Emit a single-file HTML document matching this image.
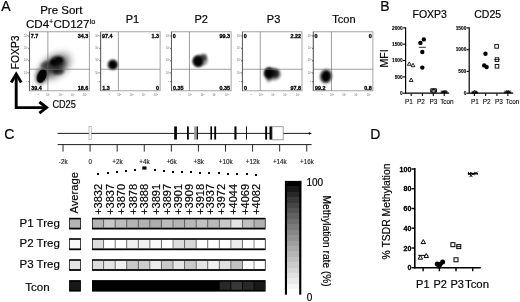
<!DOCTYPE html>
<html lang="en"><head><meta charset="utf-8"><title>Figure</title>
<style>html,body{margin:0;padding:0;background:#fff;}body{width:520px;height:302px;overflow:hidden;}svg{display:block;font-family:'Liberation Sans', Arial, Helvetica, sans-serif;}</style>
</head><body>
<svg width="520" height="302" viewBox="0 0 520 302">
<defs>
<filter id="b05" x="-50%" y="-50%" width="200%" height="200%"><feGaussianBlur stdDeviation="0.7"/></filter>
<filter id="b09" x="-50%" y="-50%" width="200%" height="200%"><feGaussianBlur stdDeviation="0.95"/></filter>
<filter id="b1" x="-50%" y="-50%" width="200%" height="200%"><feGaussianBlur stdDeviation="1.1"/></filter>
<filter id="b2" x="-50%" y="-50%" width="200%" height="200%"><feGaussianBlur stdDeviation="2.2"/></filter>
<filter id="b3" x="-50%" y="-50%" width="200%" height="200%"><feGaussianBlur stdDeviation="3.5"/></filter>
<filter id="t" x="-5%" y="-5%" width="110%" height="110%"><feGaussianBlur stdDeviation="0.35"/></filter>
<linearGradient id="cb" x1="0" y1="0" x2="0" y2="1">
<stop offset="0.0000" stop-color="#000000"/><stop offset="0.0476" stop-color="#000000"/>
<stop offset="0.0476" stop-color="#171717"/><stop offset="0.0952" stop-color="#171717"/>
<stop offset="0.0952" stop-color="#282828"/><stop offset="0.1429" stop-color="#282828"/>
<stop offset="0.1429" stop-color="#383838"/><stop offset="0.1905" stop-color="#383838"/>
<stop offset="0.1905" stop-color="#464646"/><stop offset="0.2381" stop-color="#464646"/>
<stop offset="0.2381" stop-color="#545454"/><stop offset="0.2857" stop-color="#545454"/>
<stop offset="0.2857" stop-color="#616161"/><stop offset="0.3333" stop-color="#616161"/>
<stop offset="0.3333" stop-color="#6e6e6e"/><stop offset="0.3810" stop-color="#6e6e6e"/>
<stop offset="0.3810" stop-color="#7b7b7b"/><stop offset="0.4286" stop-color="#7b7b7b"/>
<stop offset="0.4286" stop-color="#878787"/><stop offset="0.4762" stop-color="#878787"/>
<stop offset="0.4762" stop-color="#929292"/><stop offset="0.5238" stop-color="#929292"/>
<stop offset="0.5238" stop-color="#9e9e9e"/><stop offset="0.5714" stop-color="#9e9e9e"/>
<stop offset="0.5714" stop-color="#a9a9a9"/><stop offset="0.6190" stop-color="#a9a9a9"/>
<stop offset="0.6190" stop-color="#b5b5b5"/><stop offset="0.6667" stop-color="#b5b5b5"/>
<stop offset="0.6667" stop-color="#c0c0c0"/><stop offset="0.7143" stop-color="#c0c0c0"/>
<stop offset="0.7143" stop-color="#cbcbcb"/><stop offset="0.7619" stop-color="#cbcbcb"/>
<stop offset="0.7619" stop-color="#d5d5d5"/><stop offset="0.8095" stop-color="#d5d5d5"/>
<stop offset="0.8095" stop-color="#e0e0e0"/><stop offset="0.8571" stop-color="#e0e0e0"/>
<stop offset="0.8571" stop-color="#eaeaea"/><stop offset="0.9048" stop-color="#eaeaea"/>
<stop offset="0.9048" stop-color="#f5f5f5"/><stop offset="0.9524" stop-color="#f5f5f5"/>
<stop offset="0.9524" stop-color="#ffffff"/><stop offset="1.0000" stop-color="#ffffff"/>
</linearGradient>
</defs>
<rect width="520" height="302" fill="#fff"/>
<text x="1.20" y="11.10" font-size="14.00" text-anchor="start" font-weight="normal" fill="#000" stroke="#000" stroke-width="0.18" >A</text>
<text x="380.20" y="11.10" font-size="14.00" text-anchor="start" font-weight="normal" fill="#000" stroke="#000" stroke-width="0.18" >B</text>
<text x="4.20" y="139.00" font-size="14.00" text-anchor="start" font-weight="normal" fill="#000" stroke="#000" stroke-width="0.18" >C</text>
<text x="370.30" y="139.00" font-size="14.00" text-anchor="start" font-weight="normal" fill="#000" stroke="#000" stroke-width="0.18" >D</text>
<text x="61.30" y="13.90" font-size="11.50" text-anchor="middle" font-weight="normal" fill="#000" stroke="#000" stroke-width="0.18" >Pre Sort</text>
<text x="60.6" y="27.5" font-size="11.6" text-anchor="middle" fill="#000" stroke="#000" stroke-width="0.15">CD4<tspan font-size="7.4" dy="-3.4">+</tspan><tspan dy="3.4">CD127</tspan><tspan font-size="7.4" dy="-3.6">lo</tspan></text>
<text x="132.38" y="23.30" font-size="11.00" text-anchor="middle" font-weight="normal" fill="#000" stroke="#000" stroke-width="0.18" >P1</text>
<text x="201.27" y="23.30" font-size="11.00" text-anchor="middle" font-weight="normal" fill="#000" stroke="#000" stroke-width="0.18" >P2</text>
<text x="273.60" y="23.30" font-size="11.00" text-anchor="middle" font-weight="normal" fill="#000" stroke="#000" stroke-width="0.18" >P3</text>
<text x="343.90" y="23.30" font-size="11.00" text-anchor="middle" font-weight="normal" fill="#000" stroke="#000" stroke-width="0.18" >Tcon</text>
<g id="blobs">
<clipPath id="c0"><rect x="29.6" y="31.8" width="59.7" height="58.8"/></clipPath>
<g clip-path="url(#c0)">
<ellipse cx="55" cy="66" rx="19" ry="11" fill="#000" opacity="0.22" filter="url(#b3)" transform="rotate(-35 55 66)"/>
<ellipse cx="54.5" cy="66.5" rx="15.5" ry="9" fill="#000" opacity="0.38" filter="url(#b3)" transform="rotate(-32 54.5 66.5)"/>
<ellipse cx="55.5" cy="65.5" rx="10.5" ry="7.5" fill="#000" opacity="0.55" filter="url(#b2)" transform="rotate(-25 55.5 65.5)"/>
<ellipse cx="45" cy="64.5" rx="4.5" ry="3" fill="#000" opacity="0.5" filter="url(#b1)" transform="rotate(-25 45 64.5)"/>
<ellipse cx="58.3" cy="71.6" rx="5.6" ry="3" fill="#000" opacity="0.6" filter="url(#b1)"/>
<ellipse cx="56.6" cy="61.3" rx="7.2" ry="4.8" fill="#000" opacity="0.8" filter="url(#b1)" transform="rotate(-20 56.6 61.3)"/>
<ellipse cx="59" cy="59.8" rx="3" ry="2.4" fill="#000" opacity="0.6" filter="url(#b05)"/>
<ellipse cx="53.6" cy="62" rx="3" ry="2.4" fill="#000" opacity="0.6" filter="url(#b05)"/>
<ellipse cx="41.7" cy="76.1" rx="5.4" ry="8" fill="#000" opacity="0.7" filter="url(#b2)" transform="rotate(22 41.7 76.1)"/>
<ellipse cx="41.7" cy="76.1" rx="4.4" ry="7.2" fill="#000" filter="url(#b05)" transform="rotate(22 41.7 76.1)"/>
</g>
<ellipse cx="112.8" cy="64.7" rx="5.4" ry="5.4" fill="#000" opacity="0.45" filter="url(#b1)"/>
<ellipse cx="112.8" cy="64.7" rx="4.4" ry="4.5" fill="#000" filter="url(#b09)"/>
<ellipse cx="200.4" cy="60.4" rx="7.4" ry="6" fill="#000" opacity="0.4" filter="url(#b1)"/>
<ellipse cx="203.8" cy="57.2" rx="3.2" ry="3.4" fill="#000" opacity="0.55" filter="url(#b1)"/>
<ellipse cx="198" cy="61.3" rx="5.6" ry="6" fill="#000" opacity="0.45" filter="url(#b1)"/>
<ellipse cx="198" cy="61.3" rx="4.7" ry="5.2" fill="#000" filter="url(#b09)"/>
<ellipse cx="272.6" cy="74" rx="8.6" ry="6.6" fill="#000" opacity="0.42" filter="url(#b1)"/>
<ellipse cx="268.6" cy="80" rx="2.6" ry="2.4" fill="#000" opacity="0.3" filter="url(#b1)"/>
<ellipse cx="274.8" cy="73.4" rx="4" ry="4.2" fill="#000" opacity="0.8" filter="url(#b1)"/>
<ellipse cx="269" cy="73" rx="5.2" ry="6" fill="#000" opacity="0.45" filter="url(#b1)"/>
<ellipse cx="269" cy="73" rx="4.4" ry="5.2" fill="#000" filter="url(#b09)"/>
<ellipse cx="326" cy="76.3" rx="6.4" ry="7.4" fill="#000" opacity="0.45" filter="url(#b1)" transform="rotate(10 326 76.3)"/>
<ellipse cx="326" cy="76.3" rx="4.7" ry="5.8" fill="#000" filter="url(#b09)" transform="rotate(10 326 76.3)"/>
</g>
<rect x="29.55" y="31.80" width="59.75" height="59.00" fill="none" stroke="#8e8e8e" stroke-width="0.8"/>
<line x1="29.55" y1="31.80" x2="29.55" y2="90.80" stroke="#555" stroke-width="0.9"/>
<line x1="28.25" y1="36.00" x2="29.55" y2="36.00" stroke="#444" stroke-width="0.8"/>
<line x1="28.25" y1="48.40" x2="29.55" y2="48.40" stroke="#444" stroke-width="0.8"/>
<line x1="28.25" y1="60.80" x2="29.55" y2="60.80" stroke="#444" stroke-width="0.8"/>
<line x1="28.25" y1="73.00" x2="29.55" y2="73.00" stroke="#444" stroke-width="0.8"/>
<line x1="28.25" y1="81.60" x2="29.55" y2="81.60" stroke="#444" stroke-width="0.8"/>
<line x1="47.85" y1="31.80" x2="47.85" y2="90.80" stroke="#6a6a6a" stroke-width="0.65"/>
<line x1="29.55" y1="69.25" x2="89.30" y2="69.25" stroke="#6a6a6a" stroke-width="0.65"/>
<text x="30.85" y="37.80" font-size="5.40" text-anchor="start" font-weight="bold" fill="#000" stroke="#000" stroke-width="0.30" >7.7</text>
<text x="88.20" y="37.80" font-size="5.40" text-anchor="end" font-weight="bold" fill="#000" stroke="#000" stroke-width="0.30" >34.3</text>
<text x="31.15" y="89.70" font-size="5.40" text-anchor="start" font-weight="bold" fill="#000" stroke="#000" stroke-width="0.30" >39.4</text>
<text x="88.20" y="89.70" font-size="5.40" text-anchor="end" font-weight="bold" fill="#000" stroke="#000" stroke-width="0.30" >18.6</text>
<text x="27.95" y="37.20" font-size="2.6" text-anchor="end" fill="#666">10<tspan font-size="1.8" dy="-1">5</tspan></text>
<text x="27.95" y="49.20" font-size="2.6" text-anchor="end" fill="#666">10<tspan font-size="1.8" dy="-1">4</tspan></text>
<text x="27.95" y="61.40" font-size="2.6" text-anchor="end" fill="#666">10<tspan font-size="1.8" dy="-1">3</tspan></text>
<text x="27.95" y="73.80" font-size="2.6" text-anchor="end" fill="#666">10<tspan font-size="1.8" dy="-1">2</tspan></text>
<text x="27.35" y="82.30" font-size="2.2" text-anchor="end" fill="#666">1</text>
<text x="38.35" y="95.30" font-size="2.4" text-anchor="middle" fill="#666">0</text>
<text x="48.05" y="95.80" font-size="2.6" text-anchor="middle" fill="#666">10<tspan font-size="1.8" dy="-1">2</tspan></text>
<text x="60.45" y="95.80" font-size="2.6" text-anchor="middle" fill="#666">10<tspan font-size="1.8" dy="-1">3</tspan></text>
<text x="72.45" y="95.80" font-size="2.6" text-anchor="middle" fill="#666">10<tspan font-size="1.8" dy="-1">4</tspan></text>
<text x="84.85" y="95.80" font-size="2.6" text-anchor="middle" fill="#666">10<tspan font-size="1.8" dy="-1">5</tspan></text>
<rect x="100.65" y="31.80" width="59.45" height="59.00" fill="none" stroke="#8e8e8e" stroke-width="0.8"/>
<line x1="100.65" y1="31.80" x2="100.65" y2="90.80" stroke="#555" stroke-width="0.9"/>
<line x1="99.35" y1="36.00" x2="100.65" y2="36.00" stroke="#444" stroke-width="0.8"/>
<line x1="99.35" y1="48.40" x2="100.65" y2="48.40" stroke="#444" stroke-width="0.8"/>
<line x1="99.35" y1="60.80" x2="100.65" y2="60.80" stroke="#444" stroke-width="0.8"/>
<line x1="99.35" y1="73.00" x2="100.65" y2="73.00" stroke="#444" stroke-width="0.8"/>
<line x1="99.35" y1="81.60" x2="100.65" y2="81.60" stroke="#444" stroke-width="0.8"/>
<line x1="118.35" y1="31.80" x2="118.35" y2="90.80" stroke="#6a6a6a" stroke-width="0.65"/>
<line x1="100.65" y1="69.25" x2="160.10" y2="69.25" stroke="#6a6a6a" stroke-width="0.65"/>
<text x="101.95" y="37.80" font-size="5.40" text-anchor="start" font-weight="bold" fill="#000" stroke="#000" stroke-width="0.30" >97.4</text>
<text x="159.00" y="37.80" font-size="5.40" text-anchor="end" font-weight="bold" fill="#000" stroke="#000" stroke-width="0.30" >1.3</text>
<text x="102.25" y="89.70" font-size="5.40" text-anchor="start" font-weight="bold" fill="#000" stroke="#000" stroke-width="0.30" >1.3</text>
<text x="159.00" y="89.70" font-size="5.40" text-anchor="end" font-weight="bold" fill="#000" stroke="#000" stroke-width="0.30" >0</text>
<text x="99.05" y="37.20" font-size="2.6" text-anchor="end" fill="#666">10<tspan font-size="1.8" dy="-1">5</tspan></text>
<text x="99.05" y="49.20" font-size="2.6" text-anchor="end" fill="#666">10<tspan font-size="1.8" dy="-1">4</tspan></text>
<text x="99.05" y="61.40" font-size="2.6" text-anchor="end" fill="#666">10<tspan font-size="1.8" dy="-1">3</tspan></text>
<text x="99.05" y="73.80" font-size="2.6" text-anchor="end" fill="#666">10<tspan font-size="1.8" dy="-1">2</tspan></text>
<text x="98.45" y="82.30" font-size="2.2" text-anchor="end" fill="#666">1</text>
<text x="109.45" y="95.30" font-size="2.4" text-anchor="middle" fill="#666">0</text>
<text x="119.15" y="95.80" font-size="2.6" text-anchor="middle" fill="#666">10<tspan font-size="1.8" dy="-1">2</tspan></text>
<text x="131.55" y="95.80" font-size="2.6" text-anchor="middle" fill="#666">10<tspan font-size="1.8" dy="-1">3</tspan></text>
<text x="143.55" y="95.80" font-size="2.6" text-anchor="middle" fill="#666">10<tspan font-size="1.8" dy="-1">4</tspan></text>
<text x="155.95" y="95.80" font-size="2.6" text-anchor="middle" fill="#666">10<tspan font-size="1.8" dy="-1">5</tspan></text>
<rect x="171.45" y="31.80" width="59.65" height="59.00" fill="none" stroke="#8e8e8e" stroke-width="0.8"/>
<line x1="171.45" y1="31.80" x2="171.45" y2="90.80" stroke="#555" stroke-width="0.9"/>
<line x1="170.15" y1="36.00" x2="171.45" y2="36.00" stroke="#444" stroke-width="0.8"/>
<line x1="170.15" y1="48.40" x2="171.45" y2="48.40" stroke="#444" stroke-width="0.8"/>
<line x1="170.15" y1="60.80" x2="171.45" y2="60.80" stroke="#444" stroke-width="0.8"/>
<line x1="170.15" y1="73.00" x2="171.45" y2="73.00" stroke="#444" stroke-width="0.8"/>
<line x1="170.15" y1="81.60" x2="171.45" y2="81.60" stroke="#444" stroke-width="0.8"/>
<line x1="189.45" y1="31.80" x2="189.45" y2="90.80" stroke="#6a6a6a" stroke-width="0.65"/>
<line x1="171.45" y1="69.25" x2="231.10" y2="69.25" stroke="#6a6a6a" stroke-width="0.65"/>
<text x="172.75" y="37.80" font-size="5.40" text-anchor="start" font-weight="bold" fill="#000" stroke="#000" stroke-width="0.30" >0</text>
<text x="230.00" y="37.80" font-size="5.40" text-anchor="end" font-weight="bold" fill="#000" stroke="#000" stroke-width="0.30" >99.3</text>
<text x="173.05" y="89.70" font-size="5.40" text-anchor="start" font-weight="bold" fill="#000" stroke="#000" stroke-width="0.30" >0.35</text>
<text x="230.00" y="89.70" font-size="5.40" text-anchor="end" font-weight="bold" fill="#000" stroke="#000" stroke-width="0.30" >0.35</text>
<text x="169.85" y="37.20" font-size="2.6" text-anchor="end" fill="#666">10<tspan font-size="1.8" dy="-1">5</tspan></text>
<text x="169.85" y="49.20" font-size="2.6" text-anchor="end" fill="#666">10<tspan font-size="1.8" dy="-1">4</tspan></text>
<text x="169.85" y="61.40" font-size="2.6" text-anchor="end" fill="#666">10<tspan font-size="1.8" dy="-1">3</tspan></text>
<text x="169.85" y="73.80" font-size="2.6" text-anchor="end" fill="#666">10<tspan font-size="1.8" dy="-1">2</tspan></text>
<text x="169.25" y="82.30" font-size="2.2" text-anchor="end" fill="#666">1</text>
<text x="180.25" y="95.30" font-size="2.4" text-anchor="middle" fill="#666">0</text>
<text x="189.95" y="95.80" font-size="2.6" text-anchor="middle" fill="#666">10<tspan font-size="1.8" dy="-1">2</tspan></text>
<text x="202.35" y="95.80" font-size="2.6" text-anchor="middle" fill="#666">10<tspan font-size="1.8" dy="-1">3</tspan></text>
<text x="214.35" y="95.80" font-size="2.6" text-anchor="middle" fill="#666">10<tspan font-size="1.8" dy="-1">4</tspan></text>
<text x="226.75" y="95.80" font-size="2.6" text-anchor="middle" fill="#666">10<tspan font-size="1.8" dy="-1">5</tspan></text>
<rect x="242.40" y="31.80" width="59.60" height="59.00" fill="none" stroke="#8e8e8e" stroke-width="0.8"/>
<line x1="242.40" y1="31.80" x2="242.40" y2="90.80" stroke="#555" stroke-width="0.9"/>
<line x1="241.10" y1="36.00" x2="242.40" y2="36.00" stroke="#444" stroke-width="0.8"/>
<line x1="241.10" y1="48.40" x2="242.40" y2="48.40" stroke="#444" stroke-width="0.8"/>
<line x1="241.10" y1="60.80" x2="242.40" y2="60.80" stroke="#444" stroke-width="0.8"/>
<line x1="241.10" y1="73.00" x2="242.40" y2="73.00" stroke="#444" stroke-width="0.8"/>
<line x1="241.10" y1="81.60" x2="242.40" y2="81.60" stroke="#444" stroke-width="0.8"/>
<line x1="260.25" y1="31.80" x2="260.25" y2="90.80" stroke="#6a6a6a" stroke-width="0.65"/>
<line x1="242.40" y1="69.25" x2="302.00" y2="69.25" stroke="#6a6a6a" stroke-width="0.65"/>
<text x="243.70" y="37.80" font-size="5.40" text-anchor="start" font-weight="bold" fill="#000" stroke="#000" stroke-width="0.30" >0</text>
<text x="300.90" y="37.80" font-size="5.40" text-anchor="end" font-weight="bold" fill="#000" stroke="#000" stroke-width="0.30" >2.22</text>
<text x="244.00" y="89.70" font-size="5.40" text-anchor="start" font-weight="bold" fill="#000" stroke="#000" stroke-width="0.30" >0</text>
<text x="300.90" y="89.70" font-size="5.40" text-anchor="end" font-weight="bold" fill="#000" stroke="#000" stroke-width="0.30" >97.8</text>
<text x="240.80" y="37.20" font-size="2.6" text-anchor="end" fill="#666">10<tspan font-size="1.8" dy="-1">5</tspan></text>
<text x="240.80" y="49.20" font-size="2.6" text-anchor="end" fill="#666">10<tspan font-size="1.8" dy="-1">4</tspan></text>
<text x="240.80" y="61.40" font-size="2.6" text-anchor="end" fill="#666">10<tspan font-size="1.8" dy="-1">3</tspan></text>
<text x="240.80" y="73.80" font-size="2.6" text-anchor="end" fill="#666">10<tspan font-size="1.8" dy="-1">2</tspan></text>
<text x="240.20" y="82.30" font-size="2.2" text-anchor="end" fill="#666">1</text>
<text x="251.20" y="95.30" font-size="2.4" text-anchor="middle" fill="#666">0</text>
<text x="260.90" y="95.80" font-size="2.6" text-anchor="middle" fill="#666">10<tspan font-size="1.8" dy="-1">2</tspan></text>
<text x="273.30" y="95.80" font-size="2.6" text-anchor="middle" fill="#666">10<tspan font-size="1.8" dy="-1">3</tspan></text>
<text x="285.30" y="95.80" font-size="2.6" text-anchor="middle" fill="#666">10<tspan font-size="1.8" dy="-1">4</tspan></text>
<text x="297.70" y="95.80" font-size="2.6" text-anchor="middle" fill="#666">10<tspan font-size="1.8" dy="-1">5</tspan></text>
<rect x="313.30" y="31.80" width="59.60" height="59.00" fill="none" stroke="#8e8e8e" stroke-width="0.8"/>
<line x1="313.30" y1="31.80" x2="313.30" y2="90.80" stroke="#555" stroke-width="0.9"/>
<line x1="312.00" y1="36.00" x2="313.30" y2="36.00" stroke="#444" stroke-width="0.8"/>
<line x1="312.00" y1="48.40" x2="313.30" y2="48.40" stroke="#444" stroke-width="0.8"/>
<line x1="312.00" y1="60.80" x2="313.30" y2="60.80" stroke="#444" stroke-width="0.8"/>
<line x1="312.00" y1="73.00" x2="313.30" y2="73.00" stroke="#444" stroke-width="0.8"/>
<line x1="312.00" y1="81.60" x2="313.30" y2="81.60" stroke="#444" stroke-width="0.8"/>
<line x1="331.45" y1="31.80" x2="331.45" y2="90.80" stroke="#6a6a6a" stroke-width="0.65"/>
<line x1="313.30" y1="69.25" x2="372.90" y2="69.25" stroke="#6a6a6a" stroke-width="0.65"/>
<text x="314.60" y="37.80" font-size="5.40" text-anchor="start" font-weight="bold" fill="#000" stroke="#000" stroke-width="0.30" >0</text>
<text x="371.80" y="37.80" font-size="5.40" text-anchor="end" font-weight="bold" fill="#000" stroke="#000" stroke-width="0.30" >0</text>
<text x="314.90" y="89.70" font-size="5.40" text-anchor="start" font-weight="bold" fill="#000" stroke="#000" stroke-width="0.30" >99.2</text>
<text x="371.80" y="89.70" font-size="5.40" text-anchor="end" font-weight="bold" fill="#000" stroke="#000" stroke-width="0.30" >0.8</text>
<text x="311.70" y="37.20" font-size="2.6" text-anchor="end" fill="#666">10<tspan font-size="1.8" dy="-1">5</tspan></text>
<text x="311.70" y="49.20" font-size="2.6" text-anchor="end" fill="#666">10<tspan font-size="1.8" dy="-1">4</tspan></text>
<text x="311.70" y="61.40" font-size="2.6" text-anchor="end" fill="#666">10<tspan font-size="1.8" dy="-1">3</tspan></text>
<text x="311.70" y="73.80" font-size="2.6" text-anchor="end" fill="#666">10<tspan font-size="1.8" dy="-1">2</tspan></text>
<text x="311.10" y="82.30" font-size="2.2" text-anchor="end" fill="#666">1</text>
<text x="322.10" y="95.30" font-size="2.4" text-anchor="middle" fill="#666">0</text>
<text x="331.80" y="95.80" font-size="2.6" text-anchor="middle" fill="#666">10<tspan font-size="1.8" dy="-1">2</tspan></text>
<text x="344.20" y="95.80" font-size="2.6" text-anchor="middle" fill="#666">10<tspan font-size="1.8" dy="-1">3</tspan></text>
<text x="356.20" y="95.80" font-size="2.6" text-anchor="middle" fill="#666">10<tspan font-size="1.8" dy="-1">4</tspan></text>
<text x="368.60" y="95.80" font-size="2.6" text-anchor="middle" fill="#666">10<tspan font-size="1.8" dy="-1">5</tspan></text>
<g stroke="#000" stroke-width="2.9" fill="none" stroke-linecap="butt" stroke-linejoin="miter" stroke-miterlimit="10">
<path d="M16.2 74.5 V107.6 H46"/>
<path d="M11.2 82.4 L16.2 74 L21.2 82.4"/>
<path d="M39.4 102 L46.6 107.6 L39.4 113.2"/>
</g>
<text x="0.00" y="0.00" font-size="10.30" text-anchor="start" font-weight="normal" fill="#000" stroke="#000" stroke-width="0.18" transform="translate(19.3 69.2) rotate(-90)">FOXP3</text>
<text x="52.40" y="108.20" font-size="10.20" text-anchor="start" font-weight="normal" fill="#000" stroke="#000" stroke-width="0.18" textLength="23.4" lengthAdjust="spacingAndGlyphs">CD25</text>
<text x="429.70" y="18.20" font-size="10.50" text-anchor="middle" font-weight="normal" fill="#000" stroke="#000" stroke-width="0.18" >FOXP3</text>
<text x="487.70" y="18.20" font-size="10.50" text-anchor="middle" font-weight="normal" fill="#000" stroke="#000" stroke-width="0.18" >CD25</text>
<text x="0.00" y="0.00" font-size="10.50" text-anchor="middle" font-weight="normal" fill="#000" stroke="#000" stroke-width="0.18" transform="translate(388.2 58.4) rotate(-90)">MFI</text>
<path d="M405.60 27.30 V93.80" fill="none" stroke="#000" stroke-width="1.20"/>
<path d="M405.60 93.20 H449.20" fill="none" stroke="#000" stroke-width="1.20"/>
<line x1="403.00" y1="27.90" x2="405.60" y2="27.90" stroke="#000" stroke-width="1.08"/>
<text x="402.70" y="29.63" font-size="4.80" text-anchor="end" font-weight="bold" fill="#000" stroke="#000" stroke-width="0.12" >2000</text>
<line x1="403.00" y1="44.20" x2="405.60" y2="44.20" stroke="#000" stroke-width="1.08"/>
<text x="402.70" y="45.93" font-size="4.80" text-anchor="end" font-weight="bold" fill="#000" stroke="#000" stroke-width="0.12" >1500</text>
<line x1="403.00" y1="60.50" x2="405.60" y2="60.50" stroke="#000" stroke-width="1.08"/>
<text x="402.70" y="62.23" font-size="4.80" text-anchor="end" font-weight="bold" fill="#000" stroke="#000" stroke-width="0.12" >1000</text>
<line x1="403.00" y1="76.90" x2="405.60" y2="76.90" stroke="#000" stroke-width="1.08"/>
<text x="402.70" y="78.63" font-size="4.80" text-anchor="end" font-weight="bold" fill="#000" stroke="#000" stroke-width="0.12" >500</text>
<line x1="403.00" y1="93.20" x2="405.60" y2="93.20" stroke="#000" stroke-width="1.08"/>
<text x="402.70" y="94.93" font-size="4.80" text-anchor="end" font-weight="bold" fill="#000" stroke="#000" stroke-width="0.12" >0</text>
<line x1="411.20" y1="93.20" x2="411.20" y2="96.10" stroke="#000" stroke-width="1.08"/>
<line x1="422.40" y1="93.20" x2="422.40" y2="96.10" stroke="#000" stroke-width="1.08"/>
<line x1="433.30" y1="93.20" x2="433.30" y2="96.10" stroke="#000" stroke-width="1.08"/>
<line x1="444.20" y1="93.20" x2="444.20" y2="96.10" stroke="#000" stroke-width="1.08"/>
<text x="409.00" y="104.10" font-size="6.40" text-anchor="middle" font-weight="normal" fill="#000" stroke="#000" stroke-width="0.10" >P1</text>
<text x="421.00" y="104.10" font-size="6.40" text-anchor="middle" font-weight="normal" fill="#000" stroke="#000" stroke-width="0.10" >P2</text>
<text x="433.50" y="104.10" font-size="6.40" text-anchor="middle" font-weight="normal" fill="#000" stroke="#000" stroke-width="0.10" >P3</text>
<text x="446.90" y="104.10" font-size="6.40" text-anchor="middle" font-weight="normal" fill="#000" stroke="#000" stroke-width="0.10" >Tcon</text>
<path d="M409.30 61.89 L411.20 65.31 L407.40 65.31 Z" fill="#fff" stroke="#000" stroke-width="0.85"/>
<path d="M413.00 63.29 L414.90 66.71 L411.10 66.71 Z" fill="#fff" stroke="#000" stroke-width="0.85"/>
<path d="M411.20 78.09 L413.10 81.51 L409.30 81.51 Z" fill="#fff" stroke="#000" stroke-width="0.85"/>
<circle cx="423.80" cy="39.40" r="2.20" fill="#000"/>
<circle cx="420.40" cy="42.90" r="2.20" fill="#000"/>
<circle cx="422.30" cy="52.00" r="2.20" fill="#000"/>
<circle cx="422.30" cy="67.60" r="2.20" fill="#000"/>
<line x1="418.80" y1="47.30" x2="425.80" y2="47.30" stroke="#000" stroke-width="0.80"/>
<rect x="430.80" y="88.80" width="3.20" height="3.20" fill="#fff" stroke="#000" stroke-width="0.90"/>
<rect x="433.20" y="88.80" width="3.20" height="3.20" fill="#fff" stroke="#000" stroke-width="0.90"/>
<rect x="432.00" y="89.60" width="3.20" height="3.20" fill="#fff" stroke="#000" stroke-width="0.90"/>
<line x1="430.20" y1="91.00" x2="437.00" y2="91.00" stroke="#000" stroke-width="0.80"/>
<path d="M441.40 90.60 L444.20 93.40 M441.40 93.40 L444.20 90.60" stroke="#000" stroke-width="0.95" fill="none"/>
<path d="M444.20 90.60 L447.00 93.40 M444.20 93.40 L447.00 90.60" stroke="#000" stroke-width="0.95" fill="none"/>
<path d="M442.80 90.20 L445.60 93.00 M442.80 93.00 L445.60 90.20" stroke="#000" stroke-width="0.95" fill="none"/>
<line x1="440.60" y1="92.00" x2="447.80" y2="92.00" stroke="#000" stroke-width="1.20"/>
<path d="M469.20 27.30 V93.80" fill="none" stroke="#000" stroke-width="1.20"/>
<path d="M469.20 93.20 H513.20" fill="none" stroke="#000" stroke-width="1.20"/>
<line x1="466.60" y1="27.90" x2="469.20" y2="27.90" stroke="#000" stroke-width="1.08"/>
<text x="466.30" y="29.63" font-size="4.80" text-anchor="end" font-weight="bold" fill="#000" stroke="#000" stroke-width="0.12" >1500</text>
<line x1="466.60" y1="49.70" x2="469.20" y2="49.70" stroke="#000" stroke-width="1.08"/>
<text x="466.30" y="51.43" font-size="4.80" text-anchor="end" font-weight="bold" fill="#000" stroke="#000" stroke-width="0.12" >1000</text>
<line x1="466.60" y1="71.40" x2="469.20" y2="71.40" stroke="#000" stroke-width="1.08"/>
<text x="466.30" y="73.13" font-size="4.80" text-anchor="end" font-weight="bold" fill="#000" stroke="#000" stroke-width="0.12" >500</text>
<line x1="466.60" y1="93.20" x2="469.20" y2="93.20" stroke="#000" stroke-width="1.08"/>
<text x="466.30" y="94.93" font-size="4.80" text-anchor="end" font-weight="bold" fill="#000" stroke="#000" stroke-width="0.12" >0</text>
<line x1="474.40" y1="93.20" x2="474.40" y2="96.10" stroke="#000" stroke-width="1.08"/>
<line x1="485.60" y1="93.20" x2="485.60" y2="96.10" stroke="#000" stroke-width="1.08"/>
<line x1="496.90" y1="93.20" x2="496.90" y2="96.10" stroke="#000" stroke-width="1.08"/>
<line x1="507.90" y1="93.20" x2="507.90" y2="96.10" stroke="#000" stroke-width="1.08"/>
<text x="474.80" y="104.10" font-size="6.40" text-anchor="middle" font-weight="normal" fill="#000" stroke="#000" stroke-width="0.10" >P1</text>
<text x="486.70" y="104.10" font-size="6.40" text-anchor="middle" font-weight="normal" fill="#000" stroke="#000" stroke-width="0.10" >P2</text>
<text x="499.00" y="104.10" font-size="6.40" text-anchor="middle" font-weight="normal" fill="#000" stroke="#000" stroke-width="0.10" >P3</text>
<text x="512.60" y="104.10" font-size="6.40" text-anchor="middle" font-weight="normal" fill="#000" stroke="#000" stroke-width="0.10" >Tcon</text>
<circle cx="485.50" cy="53.70" r="2.20" fill="#000"/>
<circle cx="484.20" cy="65.40" r="2.20" fill="#000"/>
<circle cx="486.60" cy="67.00" r="2.20" fill="#000"/>
<rect x="494.80" y="44.60" width="3.60" height="3.60" fill="#fff" stroke="#000" stroke-width="0.90"/>
<rect x="495.20" y="57.80" width="3.60" height="3.60" fill="#fff" stroke="#000" stroke-width="0.90"/>
<rect x="495.20" y="64.50" width="3.60" height="3.60" fill="#fff" stroke="#000" stroke-width="0.90"/>
<line x1="494.40" y1="59.60" x2="499.60" y2="59.60" stroke="#000" stroke-width="0.80"/>
<path d="M473.40 90.85 L474.90 93.55 L471.90 93.55 Z" fill="#fff" stroke="#000" stroke-width="0.85"/>
<path d="M476.00 90.85 L477.50 93.55 L474.50 93.55 Z" fill="#fff" stroke="#000" stroke-width="0.85"/>
<path d="M474.80 90.25 L476.30 92.95 L473.30 92.95 Z" fill="#fff" stroke="#000" stroke-width="0.85"/>
<line x1="471.40" y1="92.20" x2="478.20" y2="92.20" stroke="#000" stroke-width="1.20"/>
<path d="M505.00 90.60 L507.80 93.40 M505.00 93.40 L507.80 90.60" stroke="#000" stroke-width="0.95" fill="none"/>
<path d="M507.80 90.60 L510.60 93.40 M507.80 93.40 L510.60 90.60" stroke="#000" stroke-width="0.95" fill="none"/>
<path d="M506.40 90.20 L509.20 93.00 M506.40 93.00 L509.20 90.20" stroke="#000" stroke-width="0.95" fill="none"/>
<line x1="503.80" y1="92.20" x2="511.40" y2="92.20" stroke="#000" stroke-width="1.20"/>
<line x1="57.6" y1="133.4" x2="310" y2="133.4" stroke="#111" stroke-width="0.95"/>
<path d="M308.8 132 L312 133.4 L308.8 134.8 Z" fill="#111"/>
<rect x="89" y="126.6" width="2.2" height="12.8" fill="#fff" stroke="#999" stroke-width="0.6"/>
<rect x="174.20" y="126.4" width="2.70" height="13.2" fill="#000"/>
<rect x="187.00" y="126.4" width="1.80" height="13.2" fill="#000"/>
<rect x="194.20" y="126.4" width="2.60" height="13.2" fill="#999"/>
<rect x="196.80" y="126.4" width="1.20" height="13.2" fill="#111"/>
<rect x="210.40" y="126.4" width="1.60" height="13.2" fill="#000"/>
<rect x="214.30" y="126.4" width="1.80" height="13.2" fill="#000"/>
<rect x="234.40" y="126.4" width="2.10" height="13.2" fill="#000"/>
<rect x="246.10" y="126.4" width="0.90" height="13.2" fill="#000"/>
<rect x="265.20" y="126.4" width="1.90" height="13.2" fill="#000"/>
<rect x="269.50" y="126.4" width="2.70" height="13.2" fill="#000"/>
<rect x="272.2" y="126.7" width="11" height="13.1" fill="#fff" stroke="#888" stroke-width="0.8"/>
<line x1="57.6" y1="144.6" x2="311.6" y2="144.6" stroke="#111" stroke-width="0.95"/>
<line x1="63.02" y1="144.6" x2="63.02" y2="151.6" stroke="#111" stroke-width="0.9"/>
<text x="63.22" y="164.00" font-size="6.30" text-anchor="middle" font-weight="normal" fill="#111" stroke="#111" stroke-width="0.10" >-2k</text>
<line x1="90.10" y1="144.6" x2="90.10" y2="151.6" stroke="#111" stroke-width="0.9"/>
<text x="90.30" y="164.00" font-size="6.30" text-anchor="middle" font-weight="normal" fill="#111" stroke="#111" stroke-width="0.10" >0</text>
<line x1="117.18" y1="144.6" x2="117.18" y2="151.6" stroke="#111" stroke-width="0.9"/>
<text x="117.38" y="164.00" font-size="6.30" text-anchor="middle" font-weight="normal" fill="#111" stroke="#111" stroke-width="0.10" >+2k</text>
<line x1="144.26" y1="144.6" x2="144.26" y2="151.6" stroke="#111" stroke-width="0.9"/>
<text x="144.46" y="164.00" font-size="6.30" text-anchor="middle" font-weight="normal" fill="#111" stroke="#111" stroke-width="0.10" >+4k</text>
<line x1="171.34" y1="144.6" x2="171.34" y2="151.6" stroke="#111" stroke-width="0.9"/>
<text x="171.54" y="164.00" font-size="6.30" text-anchor="middle" font-weight="normal" fill="#111" stroke="#111" stroke-width="0.10" >+6k</text>
<line x1="198.42" y1="144.6" x2="198.42" y2="151.6" stroke="#111" stroke-width="0.9"/>
<text x="198.62" y="164.00" font-size="6.30" text-anchor="middle" font-weight="normal" fill="#111" stroke="#111" stroke-width="0.10" >+8k</text>
<line x1="225.50" y1="144.6" x2="225.50" y2="151.6" stroke="#111" stroke-width="0.9"/>
<text x="225.70" y="164.00" font-size="6.30" text-anchor="middle" font-weight="normal" fill="#111" stroke="#111" stroke-width="0.10" >+10k</text>
<line x1="252.58" y1="144.6" x2="252.58" y2="151.6" stroke="#111" stroke-width="0.9"/>
<text x="252.78" y="164.00" font-size="6.30" text-anchor="middle" font-weight="normal" fill="#111" stroke="#111" stroke-width="0.10" >+12k</text>
<line x1="279.66" y1="144.6" x2="279.66" y2="151.6" stroke="#111" stroke-width="0.9"/>
<text x="279.86" y="164.00" font-size="6.30" text-anchor="middle" font-weight="normal" fill="#111" stroke="#111" stroke-width="0.10" >+14k</text>
<line x1="306.74" y1="144.6" x2="306.74" y2="151.6" stroke="#111" stroke-width="0.9"/>
<text x="306.94" y="164.00" font-size="6.30" text-anchor="middle" font-weight="normal" fill="#111" stroke="#111" stroke-width="0.10" >+16k</text>
<rect x="97" y="173" width="2" height="2" fill="#000"/>
<rect x="107" y="172" width="2" height="2" fill="#000"/>
<rect x="116" y="171" width="2" height="2" fill="#000"/>
<rect x="125" y="170" width="2" height="2" fill="#000"/>
<rect x="134" y="169" width="2" height="2" fill="#000"/>
<rect x="154" y="169" width="2" height="2" fill="#000"/>
<rect x="163" y="170" width="2" height="2" fill="#000"/>
<rect x="172" y="171" width="2" height="2" fill="#000"/>
<rect x="181" y="171" width="2" height="2" fill="#000"/>
<rect x="190" y="171" width="2" height="2" fill="#000"/>
<rect x="199" y="172" width="2" height="2" fill="#000"/>
<rect x="208" y="172" width="2" height="2" fill="#000"/>
<rect x="218" y="172" width="2" height="2" fill="#000"/>
<rect x="227" y="173" width="2" height="2" fill="#000"/>
<rect x="236" y="173" width="2" height="2" fill="#000"/>
<rect x="246" y="173" width="2" height="2" fill="#000"/>
<rect x="255" y="174" width="2" height="2" fill="#000"/>
<rect x="142.3" y="166.4" width="4.2" height="3.2" fill="#000"/>
<text x="0.00" y="0.00" font-size="11.20" text-anchor="start" font-weight="normal" fill="#000" stroke="#000" stroke-width="0.18" transform="translate(77.9 213.6) rotate(-90)">Average</text>
<text x="0.00" y="0.00" font-size="11.00" text-anchor="start" font-weight="normal" fill="#000" stroke="#000" stroke-width="0.18" transform="translate(101.65 214.8) rotate(-90)">+3832</text>
<text x="0.00" y="0.00" font-size="11.00" text-anchor="start" font-weight="normal" fill="#000" stroke="#000" stroke-width="0.18" transform="translate(113.65 214.8) rotate(-90)">+3837</text>
<text x="0.00" y="0.00" font-size="11.00" text-anchor="start" font-weight="normal" fill="#000" stroke="#000" stroke-width="0.18" transform="translate(125.45 214.8) rotate(-90)">+3870</text>
<text x="0.00" y="0.00" font-size="11.00" text-anchor="start" font-weight="normal" fill="#000" stroke="#000" stroke-width="0.18" transform="translate(136.95 214.8) rotate(-90)">+3878</text>
<text x="0.00" y="0.00" font-size="11.00" text-anchor="start" font-weight="normal" fill="#000" stroke="#000" stroke-width="0.18" transform="translate(148.45 214.8) rotate(-90)">+3888</text>
<text x="0.00" y="0.00" font-size="11.00" text-anchor="start" font-weight="normal" fill="#000" stroke="#000" stroke-width="0.18" transform="translate(159.65 214.8) rotate(-90)">+3891</text>
<text x="0.00" y="0.00" font-size="11.00" text-anchor="start" font-weight="normal" fill="#000" stroke="#000" stroke-width="0.18" transform="translate(171.15 214.8) rotate(-90)">+3897</text>
<text x="0.00" y="0.00" font-size="11.00" text-anchor="start" font-weight="normal" fill="#000" stroke="#000" stroke-width="0.18" transform="translate(181.65 214.8) rotate(-90)">+3901</text>
<text x="0.00" y="0.00" font-size="11.00" text-anchor="start" font-weight="normal" fill="#000" stroke="#000" stroke-width="0.18" transform="translate(192.65 214.8) rotate(-90)">+3909</text>
<text x="0.00" y="0.00" font-size="11.00" text-anchor="start" font-weight="normal" fill="#000" stroke="#000" stroke-width="0.18" transform="translate(204.40 214.8) rotate(-90)">+3918</text>
<text x="0.00" y="0.00" font-size="11.00" text-anchor="start" font-weight="normal" fill="#000" stroke="#000" stroke-width="0.18" transform="translate(214.15 214.8) rotate(-90)">+3937</text>
<text x="0.00" y="0.00" font-size="11.00" text-anchor="start" font-weight="normal" fill="#000" stroke="#000" stroke-width="0.18" transform="translate(224.90 214.8) rotate(-90)">+3972</text>
<text x="0.00" y="0.00" font-size="11.00" text-anchor="start" font-weight="normal" fill="#000" stroke="#000" stroke-width="0.18" transform="translate(236.65 214.8) rotate(-90)">+4044</text>
<text x="0.00" y="0.00" font-size="11.00" text-anchor="start" font-weight="normal" fill="#000" stroke="#000" stroke-width="0.18" transform="translate(249.15 214.8) rotate(-90)">+4069</text>
<text x="0.00" y="0.00" font-size="11.00" text-anchor="start" font-weight="normal" fill="#000" stroke="#000" stroke-width="0.18" transform="translate(260.15 214.8) rotate(-90)">+4082</text>
<text x="19.50" y="227.20" font-size="11.50" text-anchor="start" font-weight="normal" fill="#000" stroke="#000" stroke-width="0.18" >P1 Treg</text>
<rect x="69.10" y="217.80" width="11.80" height="11.70" fill="#000"/>
<rect x="92.00" y="217.80" width="173.60" height="11.70" fill="#000"/>
<rect x="69.80" y="219.40" width="10.40" height="8.30" fill="#b4b4b4"/>
<rect x="92.70" y="219.40" width="10.92" height="8.30" fill="#b4b4b4"/>
<rect x="103.57" y="219.40" width="11.62" height="8.30" fill="#c8c8c8"/>
<rect x="115.15" y="219.40" width="11.62" height="8.30" fill="#bcbcbc"/>
<rect x="126.72" y="219.40" width="11.62" height="8.30" fill="#b4b4b4"/>
<rect x="138.29" y="219.40" width="11.62" height="8.30" fill="#b0b0b0"/>
<rect x="149.87" y="219.40" width="11.62" height="8.30" fill="#acacac"/>
<rect x="161.44" y="219.40" width="11.62" height="8.30" fill="#bcbcbc"/>
<rect x="173.01" y="219.40" width="11.62" height="8.30" fill="#b4b4b4"/>
<rect x="184.58" y="219.40" width="11.62" height="8.30" fill="#b8b8b8"/>
<rect x="196.16" y="219.40" width="11.62" height="8.30" fill="#c0c0c0"/>
<rect x="207.73" y="219.40" width="11.62" height="8.30" fill="#b8b8b8"/>
<rect x="219.30" y="219.40" width="11.62" height="8.30" fill="#c8c8c8"/>
<rect x="230.88" y="219.40" width="11.62" height="8.30" fill="#e4e4e4"/>
<rect x="242.45" y="219.40" width="11.62" height="8.30" fill="#c0c0c0"/>
<rect x="254.02" y="219.40" width="10.87" height="8.30" fill="#b0b0b0"/>
<line x1="103.57" y1="219.40" x2="103.57" y2="227.70" stroke="#444" stroke-width="0.65"/>
<line x1="115.15" y1="219.40" x2="115.15" y2="227.70" stroke="#444" stroke-width="0.65"/>
<line x1="126.72" y1="219.40" x2="126.72" y2="227.70" stroke="#444" stroke-width="0.65"/>
<line x1="138.29" y1="219.40" x2="138.29" y2="227.70" stroke="#444" stroke-width="0.65"/>
<line x1="149.87" y1="219.40" x2="149.87" y2="227.70" stroke="#444" stroke-width="0.65"/>
<line x1="161.44" y1="219.40" x2="161.44" y2="227.70" stroke="#444" stroke-width="0.65"/>
<line x1="173.01" y1="219.40" x2="173.01" y2="227.70" stroke="#444" stroke-width="0.65"/>
<line x1="184.58" y1="219.40" x2="184.58" y2="227.70" stroke="#444" stroke-width="0.65"/>
<line x1="196.16" y1="219.40" x2="196.16" y2="227.70" stroke="#444" stroke-width="0.65"/>
<line x1="207.73" y1="219.40" x2="207.73" y2="227.70" stroke="#444" stroke-width="0.65"/>
<line x1="219.30" y1="219.40" x2="219.30" y2="227.70" stroke="#444" stroke-width="0.65"/>
<line x1="230.88" y1="219.40" x2="230.88" y2="227.70" stroke="#444" stroke-width="0.65"/>
<line x1="242.45" y1="219.40" x2="242.45" y2="227.70" stroke="#444" stroke-width="0.65"/>
<line x1="254.02" y1="219.40" x2="254.02" y2="227.70" stroke="#444" stroke-width="0.65"/>
<text x="19.50" y="246.80" font-size="11.50" text-anchor="start" font-weight="normal" fill="#000" stroke="#000" stroke-width="0.18" >P2 Treg</text>
<rect x="69.10" y="238.20" width="11.80" height="12.00" fill="#000"/>
<rect x="92.00" y="238.20" width="173.60" height="12.00" fill="#000"/>
<rect x="69.80" y="239.80" width="10.40" height="8.60" fill="#f8f8f8"/>
<rect x="92.70" y="239.80" width="10.92" height="8.60" fill="#dcdcdc"/>
<rect x="103.57" y="239.80" width="11.62" height="8.60" fill="#ffffff"/>
<rect x="115.15" y="239.80" width="11.62" height="8.60" fill="#ffffff"/>
<rect x="126.72" y="239.80" width="11.62" height="8.60" fill="#f0f0f0"/>
<rect x="138.29" y="239.80" width="11.62" height="8.60" fill="#f0f0f0"/>
<rect x="149.87" y="239.80" width="11.62" height="8.60" fill="#f8f8f8"/>
<rect x="161.44" y="239.80" width="11.62" height="8.60" fill="#ffffff"/>
<rect x="173.01" y="239.80" width="11.62" height="8.60" fill="#dcdcdc"/>
<rect x="184.58" y="239.80" width="11.62" height="8.60" fill="#d8d8d8"/>
<rect x="196.16" y="239.80" width="11.62" height="8.60" fill="#ffffff"/>
<rect x="207.73" y="239.80" width="11.62" height="8.60" fill="#ffffff"/>
<rect x="219.30" y="239.80" width="11.62" height="8.60" fill="#ffffff"/>
<rect x="230.88" y="239.80" width="11.62" height="8.60" fill="#ececec"/>
<rect x="242.45" y="239.80" width="11.62" height="8.60" fill="#ffffff"/>
<rect x="254.02" y="239.80" width="10.87" height="8.60" fill="#ffffff"/>
<line x1="103.57" y1="239.80" x2="103.57" y2="248.40" stroke="#444" stroke-width="0.65"/>
<line x1="115.15" y1="239.80" x2="115.15" y2="248.40" stroke="#444" stroke-width="0.65"/>
<line x1="126.72" y1="239.80" x2="126.72" y2="248.40" stroke="#444" stroke-width="0.65"/>
<line x1="138.29" y1="239.80" x2="138.29" y2="248.40" stroke="#444" stroke-width="0.65"/>
<line x1="149.87" y1="239.80" x2="149.87" y2="248.40" stroke="#444" stroke-width="0.65"/>
<line x1="161.44" y1="239.80" x2="161.44" y2="248.40" stroke="#444" stroke-width="0.65"/>
<line x1="173.01" y1="239.80" x2="173.01" y2="248.40" stroke="#444" stroke-width="0.65"/>
<line x1="184.58" y1="239.80" x2="184.58" y2="248.40" stroke="#444" stroke-width="0.65"/>
<line x1="196.16" y1="239.80" x2="196.16" y2="248.40" stroke="#444" stroke-width="0.65"/>
<line x1="207.73" y1="239.80" x2="207.73" y2="248.40" stroke="#444" stroke-width="0.65"/>
<line x1="219.30" y1="239.80" x2="219.30" y2="248.40" stroke="#444" stroke-width="0.65"/>
<line x1="230.88" y1="239.80" x2="230.88" y2="248.40" stroke="#444" stroke-width="0.65"/>
<line x1="242.45" y1="239.80" x2="242.45" y2="248.40" stroke="#444" stroke-width="0.65"/>
<line x1="254.02" y1="239.80" x2="254.02" y2="248.40" stroke="#444" stroke-width="0.65"/>
<text x="19.50" y="268.30" font-size="11.50" text-anchor="start" font-weight="normal" fill="#000" stroke="#000" stroke-width="0.18" >P3 Treg</text>
<rect x="69.10" y="259.20" width="11.80" height="11.70" fill="#000"/>
<rect x="92.00" y="259.20" width="173.60" height="11.70" fill="#000"/>
<rect x="69.80" y="260.80" width="10.40" height="8.30" fill="#e4e4e4"/>
<rect x="92.70" y="260.80" width="10.92" height="8.30" fill="#dcdcdc"/>
<rect x="103.57" y="260.80" width="11.62" height="8.30" fill="#e4e4e4"/>
<rect x="115.15" y="260.80" width="11.62" height="8.30" fill="#f0f0f0"/>
<rect x="126.72" y="260.80" width="11.62" height="8.30" fill="#c8c8c8"/>
<rect x="138.29" y="260.80" width="11.62" height="8.30" fill="#cccccc"/>
<rect x="149.87" y="260.80" width="11.62" height="8.30" fill="#ececec"/>
<rect x="161.44" y="260.80" width="11.62" height="8.30" fill="#c8c8c8"/>
<rect x="173.01" y="260.80" width="11.62" height="8.30" fill="#e4e4e4"/>
<rect x="184.58" y="260.80" width="11.62" height="8.30" fill="#c8c8c8"/>
<rect x="196.16" y="260.80" width="11.62" height="8.30" fill="#e4e4e4"/>
<rect x="207.73" y="260.80" width="11.62" height="8.30" fill="#f0f0f0"/>
<rect x="219.30" y="260.80" width="11.62" height="8.30" fill="#e0e0e0"/>
<rect x="230.88" y="260.80" width="11.62" height="8.30" fill="#c0c0c0"/>
<rect x="242.45" y="260.80" width="11.62" height="8.30" fill="#ffffff"/>
<rect x="254.02" y="260.80" width="10.87" height="8.30" fill="#ffffff"/>
<line x1="103.57" y1="260.80" x2="103.57" y2="269.10" stroke="#444" stroke-width="0.65"/>
<line x1="115.15" y1="260.80" x2="115.15" y2="269.10" stroke="#444" stroke-width="0.65"/>
<line x1="126.72" y1="260.80" x2="126.72" y2="269.10" stroke="#444" stroke-width="0.65"/>
<line x1="138.29" y1="260.80" x2="138.29" y2="269.10" stroke="#444" stroke-width="0.65"/>
<line x1="149.87" y1="260.80" x2="149.87" y2="269.10" stroke="#444" stroke-width="0.65"/>
<line x1="161.44" y1="260.80" x2="161.44" y2="269.10" stroke="#444" stroke-width="0.65"/>
<line x1="173.01" y1="260.80" x2="173.01" y2="269.10" stroke="#444" stroke-width="0.65"/>
<line x1="184.58" y1="260.80" x2="184.58" y2="269.10" stroke="#444" stroke-width="0.65"/>
<line x1="196.16" y1="260.80" x2="196.16" y2="269.10" stroke="#444" stroke-width="0.65"/>
<line x1="207.73" y1="260.80" x2="207.73" y2="269.10" stroke="#444" stroke-width="0.65"/>
<line x1="219.30" y1="260.80" x2="219.30" y2="269.10" stroke="#444" stroke-width="0.65"/>
<line x1="230.88" y1="260.80" x2="230.88" y2="269.10" stroke="#444" stroke-width="0.65"/>
<line x1="242.45" y1="260.80" x2="242.45" y2="269.10" stroke="#444" stroke-width="0.65"/>
<line x1="254.02" y1="260.80" x2="254.02" y2="269.10" stroke="#444" stroke-width="0.65"/>
<text x="37.50" y="290.80" font-size="11.50" text-anchor="middle" font-weight="normal" fill="#000" stroke="#000" stroke-width="0.18" >Tcon</text>
<rect x="69.10" y="280.10" width="11.80" height="11.50" fill="#000"/>
<rect x="92.00" y="280.10" width="173.60" height="11.50" fill="#000"/>
<rect x="69.90" y="281.70" width="10.20" height="8.10" fill="#181818"/>
<rect x="219.70" y="281.70" width="10.77" height="8.10" fill="#282828"/>
<rect x="231.28" y="281.70" width="10.77" height="8.10" fill="#383838"/>
<rect x="242.85" y="281.70" width="10.77" height="8.10" fill="#282828"/>
<rect x="254.42" y="281.70" width="10.77" height="8.10" fill="#181818"/>
<rect x="285" y="180.9" width="16.3" height="113.8" fill="url(#cb)"/>
<rect x="284.9" y="180.9" width="2.1" height="113.8" fill="#000"/>
<rect x="299.2" y="180.9" width="2.1" height="113.8" fill="#000"/>
<text x="306.40" y="185.90" font-size="10.00" text-anchor="start" font-weight="normal" fill="#000" stroke="#000" stroke-width="0.18" >100</text>
<text x="306.80" y="301.00" font-size="10.00" text-anchor="start" font-weight="normal" fill="#000" stroke="#000" stroke-width="0.18" >0</text>
<text x="0.00" y="0.00" font-size="10.20" text-anchor="start" font-weight="normal" fill="#000" stroke="#000" stroke-width="0.18" transform="translate(323.2 195.6) rotate(90)">Methylation rate (%)</text>
<text x="0.00" y="0.00" font-size="10.35" text-anchor="start" font-weight="normal" fill="#000" stroke="#000" stroke-width="0.18" transform="translate(389.7 259.4) rotate(-90)">% TSDR Methylation</text>
<path d="M414.80 168.10 V268.50" fill="none" stroke="#000" stroke-width="1.60"/>
<path d="M414.80 267.70 H480.80" fill="none" stroke="#000" stroke-width="1.60"/>
<line x1="411.60" y1="169.00" x2="414.80" y2="169.00" stroke="#000" stroke-width="1.44"/>
<text x="411.30" y="171.52" font-size="7.00" text-anchor="end" font-weight="bold" fill="#000" stroke="#000" stroke-width="0.30" >100</text>
<line x1="411.60" y1="188.70" x2="414.80" y2="188.70" stroke="#000" stroke-width="1.44"/>
<text x="411.30" y="191.22" font-size="7.00" text-anchor="end" font-weight="bold" fill="#000" stroke="#000" stroke-width="0.30" >80</text>
<line x1="411.60" y1="208.50" x2="414.80" y2="208.50" stroke="#000" stroke-width="1.44"/>
<text x="411.30" y="211.02" font-size="7.00" text-anchor="end" font-weight="bold" fill="#000" stroke="#000" stroke-width="0.30" >60</text>
<line x1="411.60" y1="228.20" x2="414.80" y2="228.20" stroke="#000" stroke-width="1.44"/>
<text x="411.30" y="230.72" font-size="7.00" text-anchor="end" font-weight="bold" fill="#000" stroke="#000" stroke-width="0.30" >40</text>
<line x1="411.60" y1="248.00" x2="414.80" y2="248.00" stroke="#000" stroke-width="1.44"/>
<text x="411.30" y="250.52" font-size="7.00" text-anchor="end" font-weight="bold" fill="#000" stroke="#000" stroke-width="0.30" >20</text>
<line x1="411.60" y1="267.70" x2="414.80" y2="267.70" stroke="#000" stroke-width="1.44"/>
<text x="411.30" y="270.22" font-size="7.00" text-anchor="end" font-weight="bold" fill="#000" stroke="#000" stroke-width="0.30" >0</text>
<line x1="423.10" y1="267.70" x2="423.10" y2="271.20" stroke="#000" stroke-width="1.44"/>
<line x1="439.40" y1="267.70" x2="439.40" y2="271.20" stroke="#000" stroke-width="1.44"/>
<line x1="456.00" y1="267.70" x2="456.00" y2="271.20" stroke="#000" stroke-width="1.44"/>
<line x1="472.70" y1="267.70" x2="472.70" y2="271.20" stroke="#000" stroke-width="1.44"/>
<text x="422.80" y="287.70" font-size="11.00" text-anchor="middle" font-weight="normal" fill="#000" stroke="#000" stroke-width="0.18" >P1</text>
<text x="440.20" y="287.70" font-size="11.00" text-anchor="middle" font-weight="normal" fill="#000" stroke="#000" stroke-width="0.18" >P2</text>
<text x="457.20" y="287.70" font-size="11.00" text-anchor="middle" font-weight="normal" fill="#000" stroke="#000" stroke-width="0.18" >P3</text>
<text x="465.00" y="287.70" font-size="11.00" text-anchor="start" font-weight="normal" fill="#000" stroke="#000" stroke-width="0.18" textLength="24" lengthAdjust="spacingAndGlyphs">Tcon</text>
<line x1="418.30" y1="255.40" x2="428.20" y2="255.40" stroke="#000" stroke-width="1.00"/>
<path d="M423.30 239.62 L425.50 243.58 L421.10 243.58 Z" fill="#fff" stroke="#000" stroke-width="1.00"/>
<path d="M420.40 255.22 L422.60 259.18 L418.20 259.18 Z" fill="#fff" stroke="#000" stroke-width="1.00"/>
<path d="M426.30 253.52 L428.50 257.48 L424.10 257.48 Z" fill="#fff" stroke="#000" stroke-width="1.00"/>
<circle cx="437.20" cy="264.00" r="2.50" fill="#000"/>
<circle cx="442.60" cy="261.90" r="2.50" fill="#000"/>
<circle cx="439.00" cy="266.10" r="2.50" fill="#000"/>
<circle cx="440.30" cy="264.20" r="2.40" fill="#000"/>
<rect x="450.90" y="242.70" width="4.00" height="4.00" fill="#fff" stroke="#000" stroke-width="1.00"/>
<rect x="456.80" y="244.60" width="4.00" height="4.00" fill="#fff" stroke="#000" stroke-width="1.00"/>
<rect x="454.00" y="257.80" width="4.00" height="4.00" fill="#fff" stroke="#000" stroke-width="1.00"/>
<line x1="456.60" y1="246.60" x2="461.00" y2="246.60" stroke="#000" stroke-width="0.90"/>
<path d="M468.10 172.10 L471.10 175.10 M468.10 175.10 L471.10 172.10" stroke="#000" stroke-width="1.00" fill="none"/>
<path d="M471.50 172.30 L474.50 175.30 M471.50 175.30 L474.50 172.30" stroke="#000" stroke-width="1.00" fill="none"/>
<path d="M474.50 171.80 L477.50 174.80 M474.50 174.80 L477.50 171.80" stroke="#000" stroke-width="1.00" fill="none"/>
<path d="M469.50 174.10 L472.50 177.10 M469.50 177.10 L472.50 174.10" stroke="#000" stroke-width="1.00" fill="none"/>
<line x1="467.80" y1="173.60" x2="478.00" y2="173.60" stroke="#000" stroke-width="1.20"/>
</svg>
</body></html>
